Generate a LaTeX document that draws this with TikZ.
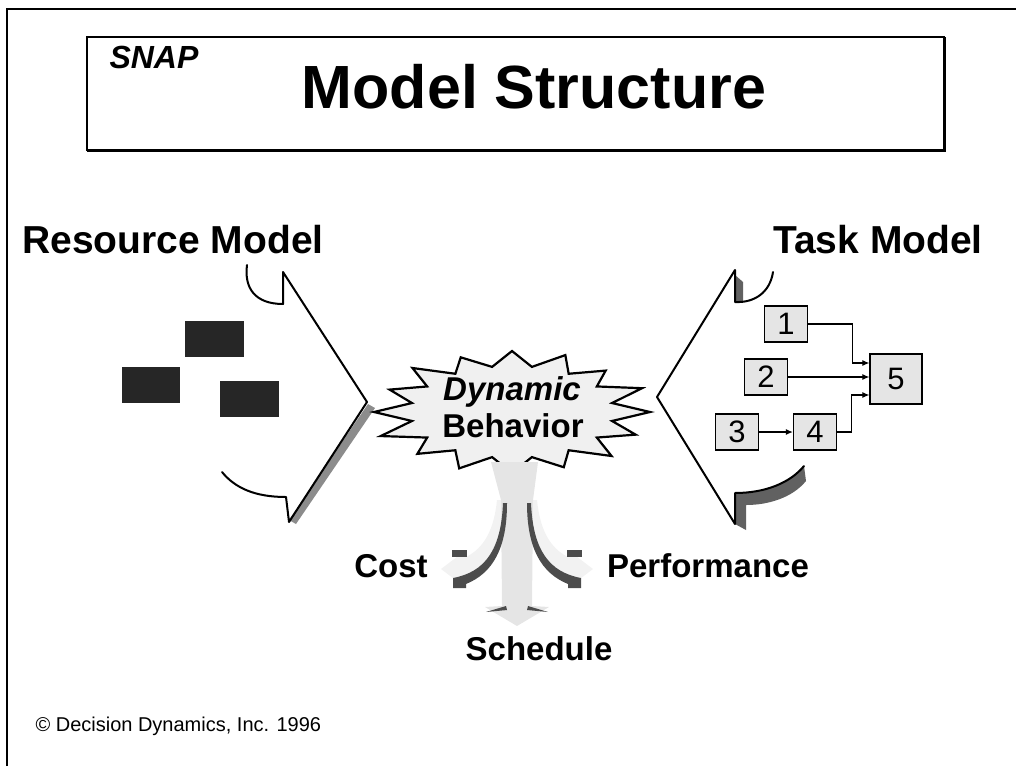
\documentclass[tikz,border=0pt]{standalone}
\usepackage{fontspec}
\setmainfont{Liberation Sans}
\usetikzlibrary{calc,arrows.meta}
\begin{document}
\begin{tikzpicture}[x=1pt,y=-1pt,
  frame/.style={line width=2pt},
  outline/.style={line width=2pt, line join=round, line cap=round},
  lightshade/.style={fill=black!45},
  darkshade/.style={fill=black!62},
  block/.style={fill=black!85},
  taskbox/.style={draw, line width=1.3pt, fill=black!10, inner sep=0pt,
    minimum width=43pt, minimum height=36pt, font=\fontsize{31}{31}\selectfont},
  arr/.style={line width=1.1pt, -{Latex[length=7pt,width=6pt]}},
  heading/.style={anchor=base, font=\bfseries\fontsize{39}{41}\selectfont},
  result/.style={anchor=base, font=\bfseries\fontsize{33}{35}\selectfont},
  burst/.style={draw, line width=2.2pt, fill=black!6, line join=miter},
  haze/.style={fill=black!10},
  dark/.style={fill=black!70},
]
\useasboundingbox (0,0) rectangle (1016,766);

% page frame and title box
\draw[frame] (7,766) -- (7,9) -- (1016,9);
\draw[line width=1.5pt] (87,37) rectangle (944,150);
\draw[line width=2.5pt] (945,37) -- (945,151) -- (87,151);
\node[anchor=base west, font=\bfseries\itshape\fontsize{32}{32}\selectfont] (logo) at (106,68) {SNAP};
\node[anchor=base, font=\bfseries\fontsize{61}{63}\selectfont] (title) at (534,108) {Model Structure};

% model headings
\node[heading] (resmodel) at (173,253) {Resource Model};
\node[heading] (taskmodel) at (878,253) {Task Model};

% resource model: bracket and resource blocks
\fill[lightshade] (368,404) -- (375,408) -- (296,524) -- (289,520) -- cycle;
\draw[outline] (247,265) .. controls (244,288) and (255,304) .. (283,304) -- (283,272)
  -- (367,402) -- (289,522) -- (286,497) .. controls (255,497) and (235,488) .. (222,472);
\fill[block] (185,321) rectangle (244,357);
\fill[block] (122,367) rectangle (180,403);
\fill[block] (220,381) rectangle (279,417);

% task model: bracket
\fill[darkshade] (735,275) -- (743,282) -- (743,302) -- (735,302) -- cycle;
\fill[darkshade] (735,493) .. controls (765,493) and (790,483) .. (804,466) -- (806,481)
  .. controls (792,498) and (768,505) .. (746,505) -- (746,530) -- (735,524) -- cycle;
\draw[outline] (773,272) .. controls (770,292) and (755,303) .. (735,302) -- (735,270)
  -- (657,397) -- (735,524) -- (735,493) .. controls (765,493) and (790,483) .. (804,466);

% task network
\node[taskbox] (t1) at (786,324) {1};
\node[taskbox] (t2) at (766,377) {2};
\node[taskbox] (t3) at (737,432) {3};
\node[taskbox] (t4) at (815,432) {4};
\node[taskbox, minimum width=52pt, minimum height=50pt] (t5) at (896,379) {5};
\draw[arr] (t1.east) -- ++(44,0) |- ([yshift=16pt]t5.west);
\draw[arr] (t2.east) -- (t2.east -| t5.west);
\draw[arr] (t3) -- (t4);
\draw[arr] (t4.east) -- ++(14,0) |- ([yshift=-16pt]t5.west);

% dynamic behaviour burst
\coordinate (sc) at (512,412);
\draw[burst] ($(sc)+(90:138pt and 61pt)$)
  \foreach \k/\f [evaluate=\k as \ta using {90+\k*22.5},
                  evaluate=\k as \va using {78.75+\k*22.5},
                  evaluate=\f as \rx using {138*\f},
                  evaluate=\f as \ry using {61*\f}]
  in {1/0.97,2/1.02,3/0.96,4/1.0,5/1.03,6/0.97,7/1.0,8/1.0,
      9/0.98,10/1.02,11/0.97,12/1.0,13/1.02,14/0.96,15/1.01}
  { -- ($(sc)+(\va:102pt and 46pt)$) -- ($(sc)+(\ta:\rx pt and \ry pt)$) }
  -- ($(sc)+(78.75:102pt and 46pt)$) -- cycle;
\node[anchor=base, font=\bfseries\itshape\fontsize{33}{35}\selectfont] (dyn) at (512,400) {Dynamic};
\node[anchor=base, font=\bfseries\fontsize{33}{35}\selectfont] (beh) at (513,437) {Behavior};

% three-way outcome arrow
\fill[haze] (491,462) -- (538,462) -- (533,500) -- (532,606) -- (549,607) -- (517,626)
  -- (485,607) -- (502,606) -- (501,500) -- cycle;
\fill[haze, opacity=0.5] (503,500) .. controls (501,548) and (486,570) .. (466,580) -- (466,588)
  -- (441,569) -- (466,550) -- (466,557) .. controls (484,548) and (494,530) .. (497,500) -- cycle;
\fill[haze, opacity=0.5] (531,500) .. controls (533,548) and (548,570) .. (568,580) -- (568,588)
  -- (593,569) -- (568,550) -- (568,557) .. controls (550,548) and (540,530) .. (537,500) -- cycle;
\fill[dark] (503,503) .. controls (501,550) and (485,572) .. (453,578) -- (453,588) -- (466,588)
  -- (466,584) .. controls (493,573) and (507,548) .. (507,503) -- cycle;
\fill[dark] (531,503) .. controls (533,550) and (549,572) .. (581,578) -- (581,588) -- (568,588)
  -- (568,584) .. controls (541,573) and (527,548) .. (527,503) -- cycle;
\fill[dark] (452,550) rectangle (467,557);
\fill[dark] (567,550) rectangle (582,557);
\fill[dark] (486,612) -- (506,606) -- (507,610) -- cycle;
\fill[dark] (548,612) -- (528,606) -- (527,610) -- cycle;

\node[result] (cost) at (391,577) {Cost};
\node[result] (perf) at (708,577) {Performance};
\node[result] (sched) at (539,660) {Schedule};

% footer
\node[anchor=base west, font=\fontsize{20}{20}\selectfont] (copy) at (32,731) {© Decision Dynamics, Inc. 1996};
\end{tikzpicture}
\end{document}
